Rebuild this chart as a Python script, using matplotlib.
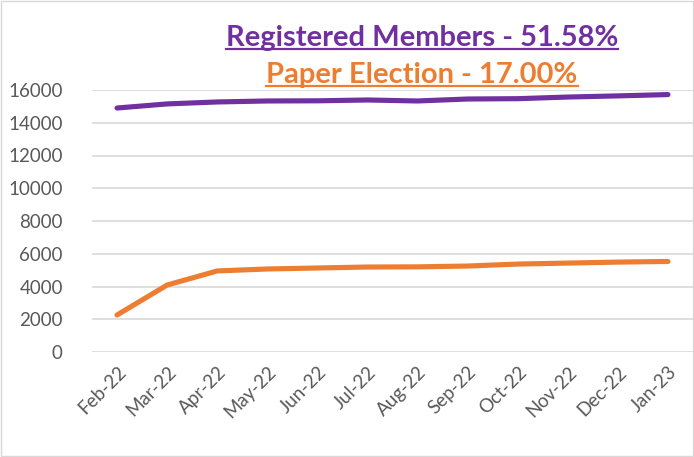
import matplotlib.pyplot as plt
from matplotlib.patches import Rectangle

months = ['Feb-22', 'Mar-22', 'Apr-22', 'May-22', 'Jun-22', 'Jul-22',
          'Aug-22', 'Sep-22', 'Oct-22', 'Nov-22', 'Dec-22', 'Jan-23']
registered = [14900, 15150, 15270, 15330, 15340, 15390,
              15330, 15450, 15470, 15570, 15640, 15720]
paper = [2260, 4090, 4950, 5070, 5130, 5190,
         5200, 5250, 5370, 5430, 5490, 5530]
yticks = [0, 2000, 4000, 6000, 8000, 10000, 12000, 14000, 16000]

purple = '#7030A0'
orange = '#ED7D31'
grey = '#595959'

plt.rcParams['font.family'] = ['Lato', 'DejaVu Sans']

fig = plt.figure(figsize=(6.94, 4.57), dpi=100)
ax = fig.add_axes([92/694, 105/457, 601/694, 262/457])

x = list(range(len(months)))
ax.plot(x, registered, color=purple, lw=3.7, solid_capstyle='round', clip_on=False, zorder=3)
ax.plot(x, paper, color=orange, lw=3.7, solid_capstyle='round', clip_on=False, zorder=3)

ax.set_xlim(-0.5, len(months) - 0.5)
ax.set_ylim(0, 16000)
ax.set_yticks(yticks)
ax.set_yticklabels([str(v) for v in yticks])
ax.set_xticks(x)
ax.set_xticklabels(months, rotation=45, ha='right', rotation_mode='anchor')
ax.tick_params(length=0, labelcolor=grey, labelsize=13.5)
ax.tick_params(axis='y', pad=21)
ax.tick_params(axis='x', pad=8)
ax.grid(axis='y', color='#D9D9D9', lw=1.2)
ax.set_axisbelow(True)
for s in ax.spines.values():
    s.set_visible(False)

# titles with underline
t1 = fig.text(422/694, 1 - 38/457, 'Registered Members - 51.58%', color=purple,
              fontsize=21, fontweight='bold', ha='center', va='center')
t2 = fig.text(422/694, 1 - 75/457, 'Paper Election - 17.00%', color=orange,
              fontsize=21, fontweight='bold', ha='center', va='center')
fig.canvas.draw()
r = fig.canvas.get_renderer()
for t, c in [(t1, purple), (t2, orange)]:
    bb = t.get_window_extent(r)
    y = bb.y0 + 2
    fig.add_artist(plt.Line2D([bb.x0/694, bb.x1/694], [y/457, y/457], color=c, lw=1.6,
                              transform=fig.transFigure))

fig.patches.append(Rectangle((0.002, 0.003), 0.996, 0.994, transform=fig.transFigure,
                             fill=False, edgecolor='#D9D9D9', lw=1))

fig.savefig('out.png', dpi=100)
